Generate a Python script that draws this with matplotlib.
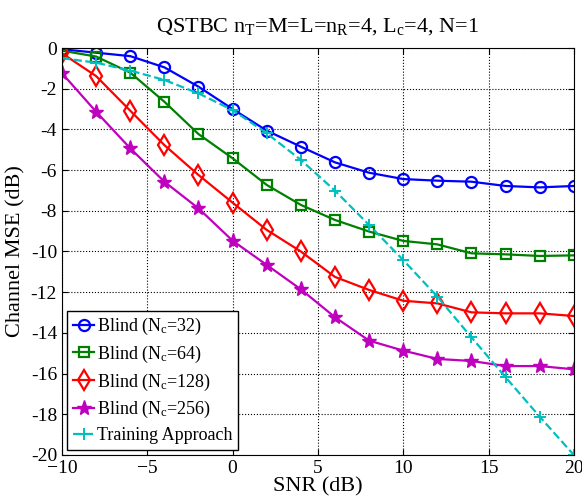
import matplotlib
matplotlib.use('Agg')
import matplotlib.pyplot as plt

plt.rcParams['font.family'] = ['Liberation Serif', 'DejaVu Serif']
plt.rcParams['mathtext.fontset'] = 'custom'
plt.rcParams['mathtext.rm'] = 'Liberation Serif'
plt.rcParams['mathtext.it'] = 'Liberation Serif'

snr = [-10, -8, -6, -4, -2, 0, 2, 4, 6, 8, 10, 12, 14, 16, 18, 20]

blind32 = [-0.06, -0.23, -0.4, -0.95, -1.9, -3.0, -4.06, -4.85, -5.62, -6.13,
           -6.44, -6.52, -6.57, -6.78, -6.85, -6.78]
blind64 = [-0.13, -0.42, -1.21, -2.64, -4.23, -5.42, -6.73, -7.71, -8.45, -9.02,
           -9.48, -9.65, -10.09, -10.14, -10.22, -10.19]
blind128 = [-0.26, -1.38, -3.08, -4.77, -6.24, -7.6, -8.94, -10.0, -11.25, -11.89,
            -12.42, -12.55, -12.99, -13.04, -13.04, -13.17]
blind256 = [-1.24, -3.13, -4.93, -6.57, -7.88, -9.47, -10.66, -11.86, -13.23, -14.38,
            -14.87, -15.28, -15.38, -15.63, -15.63, -15.79]
training = [-0.5, -0.72, -1.11, -1.57, -2.23, -3.05, -4.19, -5.5, -7.01, -8.7,
            -10.42, -12.22, -14.22, -16.18, -18.12, -20.0]

xticks = [-10, -5, 0, 5, 10, 15, 20]
yticks = [0, -2, -4, -6, -8, -10, -12, -14, -16, -18, -20]

fig = plt.figure(figsize=(5.82, 4.99), dpi=100)
ax = fig.add_axes([0.1065, 0.0882, 0.8795, 0.8156])

ax.plot(snr, blind32, color=(0, 0, 1), lw=1.6, marker='o', ms=8,
        mfc='none', mew=1.6, label='Blind (N$_\\mathrm{c}$=32)')
ax.plot(snr, blind64, color=(0, 0.5, 0), lw=1.6, marker='s', ms=7,
        mfc='none', mew=1.6, label='Blind (N$_\\mathrm{c}$=64)')
ax.plot(snr, blind128, color=(1, 0, 0), lw=1.6, marker='d', ms=10,
        mfc='none', mew=1.6, label='Blind (N$_\\mathrm{c}$=128)')
ax.plot(snr, blind256, color=(0.75, 0, 0.75), lw=1.6, marker='*', ms=11,
        label='Blind (N$_\\mathrm{c}$=256)')
ax.plot(snr, training, color=(0, 0.75, 0.75), lw=1.6, ls='--', marker='+',
        ms=9, mew=1.4, label='Training Approach')

ax.set_xlim(-10, 20)
ax.set_ylim(-20, 0)
ax.set_xticks(xticks)
ax.set_yticks(yticks)
ax.set_yticklabels([str(v) for v in yticks])
ax.tick_params(direction='in', labelsize=14, length=4, top=True, right=True)
ax.grid(True, color='black', ls=':', lw=0.8)

ax.set_xlabel('SNR (dB)', fontsize=16, labelpad=0)
ax.set_ylabel('Channel MSE (dB)', fontsize=16, labelpad=4)
ax.set_title('QSTBC n$_\\mathrm{T}$=M=L=n$_\\mathrm{R}$=4, L$_\\mathrm{c}$=4, N=1',
             fontsize=16, pad=12)

leg = ax.legend(loc='lower left', fontsize=13, handlelength=1.2, handletextpad=0.15,
                labelspacing=0.37, borderpad=0.3, borderaxespad=0.3,
                fancybox=False, framealpha=1, edgecolor='black')
leg.get_frame().set_linewidth(1.0)

fig.savefig('out.png', dpi=100)
